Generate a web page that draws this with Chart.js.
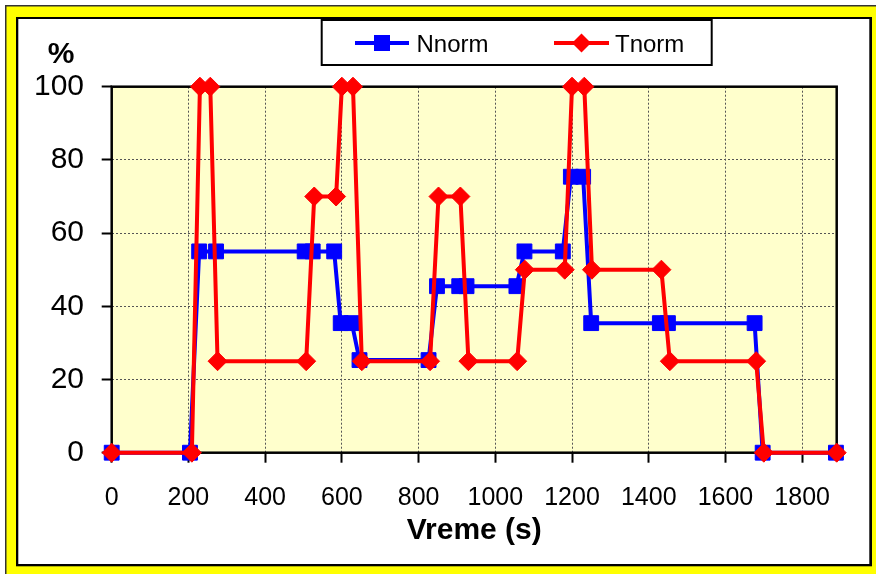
<!DOCTYPE html>
<html>
<head>
<meta charset="utf-8">
<script src="https://cdn.jsdelivr.net/npm/chart.js@4/dist/chart.umd.min.js"></script>
<style>
  html, body { margin: 0; padding: 0; background: #fff; }
  canvas { display: block; }
</style>
</head>
<body>
<canvas id="c" width="876" height="574"></canvas>
<script>
// Time stamps (s) and normalised values (%) for the two series
const timeN  = [0, 204, 228, 272, 503, 524, 580, 597, 626, 646, 826, 848, 906, 925, 1055, 1076, 1176, 1197, 1229, 1250, 1429, 1450, 1676, 1697, 1888];
const nnorm  = [0, 0, 55, 55, 55, 55, 55, 35.4, 35.4, 25.3, 25.3, 45.5, 45.5, 45.5, 45.5, 55, 55, 75.4, 75.4, 35.4, 35.4, 35.4, 35.4, 0, 0];
const timeT  = [0, 209, 230, 257, 276, 507, 528, 585, 600, 629, 652, 830, 852, 909, 930, 1057, 1077, 1181, 1200, 1232, 1252, 1433, 1455, 1680, 1700, 1890];
const tnorm  = [0, 0, 100, 100, 25, 25, 70, 70, 100, 100, 25, 25, 70, 70, 25, 25, 50, 50, 100, 100, 50, 50, 25, 25, 0, 0];

const seriesNames = ['Nnorm', 'Tnorm'];
const xTitle = 'Vreme (s)';
const yTitle = '%';
const xMax = 1890, xStep = 200;
const yMin = 0, yMax = 100, yStep = 20;

const toPoints = (xs, ys) => xs.map((x, i) => ({ x, y: ys[i] }));

const BLUE = '#0000FF', RED = '#FF0000';
const FONT = 'Arial, "Liberation Sans", sans-serif';

// Yellow outer frame, white panel and light-yellow plot background
const framePlugin = {
  id: 'frame',
  beforeDraw(chart) {
    const { ctx, width: W, height: H, chartArea: a } = chart;
    ctx.save();
    ctx.fillStyle = '#fff';
    ctx.fillRect(0, 0, W, H);
    ctx.fillStyle = '#333';
    ctx.fillRect(5, 5, W, H);
    ctx.fillStyle = '#FFFF00';
    ctx.fillRect(6.5, 6.5, W, H);
    ctx.fillStyle = '#000';
    ctx.fillRect(16, 17, 872 - 16, 566.3 - 17);
    ctx.fillStyle = '#fff';
    ctx.fillRect(18.3, 19, 869.3 - 18.3, 564 - 19);
    ctx.fillStyle = '#FFFFCC';
    ctx.fillRect(a.left, a.top, a.right - a.left, a.bottom - a.top);
    ctx.restore();
  },
  beforeDatasetsDraw(chart) {
    const { ctx, chartArea: a } = chart;
    ctx.save();
    ctx.strokeStyle = '#000';
    ctx.lineWidth = 2.5;
    ctx.strokeRect(a.left, a.top, a.right - a.left, a.bottom - a.top);
    ctx.restore();
  },
  afterDraw(chart) {
    const { ctx } = chart;
    ctx.save();
    // unit label above the value axis
    ctx.fillStyle = '#000';
    ctx.font = 'bold 30px ' + FONT;
    ctx.textAlign = 'center';
    ctx.textBaseline = 'alphabetic';
    ctx.fillText(yTitle, 61, 63);

    // boxed legend
    const box = { x: 321.7, y: 20, w: 390, h: 45 };
    ctx.fillStyle = '#fff';
    ctx.fillRect(box.x, box.y, box.w, box.h);
    ctx.strokeStyle = '#000';
    ctx.lineWidth = 2;
    ctx.strokeRect(box.x, box.y, box.w, box.h);

    const items = [
      { x0: 355, x1: 409, tx: 416.5, ds: chart.data.datasets[0] },
      { x0: 554, x1: 609, tx: 615, ds: chart.data.datasets[1] }
    ];
    const ly = 43;
    items.forEach(it => {
      ctx.strokeStyle = it.ds.borderColor;
      ctx.lineWidth = 4;
      ctx.beginPath();
      ctx.moveTo(it.x0, ly);
      ctx.lineTo(it.x1, ly);
      ctx.stroke();
      const cx = (it.x0 + it.x1) / 2;
      ctx.fillStyle = it.ds.borderColor;
      ctx.beginPath();
      if (it.ds.pointStyle === 'rect') {
        ctx.rect(cx - 8, ly - 8, 16, 16);
      } else {
        const r = 9.5;
        ctx.moveTo(cx - r, ly); ctx.lineTo(cx, ly - r);
        ctx.lineTo(cx + r, ly); ctx.lineTo(cx, ly + r);
        ctx.closePath();
      }
      ctx.fill();
      ctx.fillStyle = '#000';
      ctx.font = '24px ' + FONT;
      ctx.textAlign = 'left';
      ctx.textBaseline = 'alphabetic';
      ctx.fillText(it.ds.label, it.tx, 52);
    });
    ctx.restore();
  }
};

new Chart(document.getElementById('c'), {
  type: 'line',
  data: {
    datasets: [
      {
        label: seriesNames[0],
        data: toPoints(timeN, nnorm),
        borderColor: BLUE,
        backgroundColor: BLUE,
        borderWidth: 4,
        pointStyle: 'rect',
        pointRadius: 10.5,
        pointBorderWidth: 1,
        pointBackgroundColor: BLUE,
        pointBorderColor: BLUE,
        tension: 0,
        clip: false,
        order: 2
      },
      {
        label: seriesNames[1],
        data: toPoints(timeT, tnorm),
        borderColor: RED,
        backgroundColor: RED,
        borderWidth: 4,
        pointStyle: 'rectRot',
        pointRadius: 9.5,
        pointBorderWidth: 1,
        pointBackgroundColor: RED,
        pointBorderColor: RED,
        tension: 0,
        clip: false,
        order: 1
      }
    ]
  },
  options: {
    responsive: false,
    animation: false,
    devicePixelRatio: 1,
    layout: { padding: { left: 0, top: 86.7, right: 39.3, bottom: 0 } },
    plugins: {
      legend: { display: false },
      tooltip: { enabled: false }
    },
    scales: {
      x: {
        type: 'linear',
        min: 0,
        max: xMax,
        afterFit(s) { s.height = 121.3; },
        ticks: {
          stepSize: xStep,
          includeBounds: false,
          callback: v => String(v),
          color: '#000',
          font: { family: FONT, size: 25 },
          padding: 20,
          maxRotation: 0,
          autoSkip: false
        },
        grid: {
          color: '#555',
          lineWidth: 1,
          borderDash: [2, 2],
          tickColor: '#000',
          tickWidth: 2,
          tickLength: 10,
          tickBorderDash: []
        },
        border: { display: false, dash: [2, 2] },
        title: {
          display: true,
          text: xTitle,
          color: '#000',
          font: { family: FONT, size: 30, weight: 'bold' },
          padding: { top: 0, bottom: 25 }
        }
      },
      y: {
        min: yMin,
        max: yMax,
        afterFit(s) { s.width = 111.7; },
        ticks: {
          stepSize: yStep,
          callback: v => String(v),
          color: '#000',
          font: { family: FONT, size: 30 },
          padding: 17.7
        },
        grid: {
          color: '#555',
          lineWidth: 1,
          borderDash: [2, 2],
          tickColor: '#000',
          tickWidth: 2,
          tickLength: 10,
          tickBorderDash: []
        },
        border: { display: false, dash: [2, 2] }
      }
    }
  },
  plugins: [framePlugin]
});
</script>
</body>
</html>
